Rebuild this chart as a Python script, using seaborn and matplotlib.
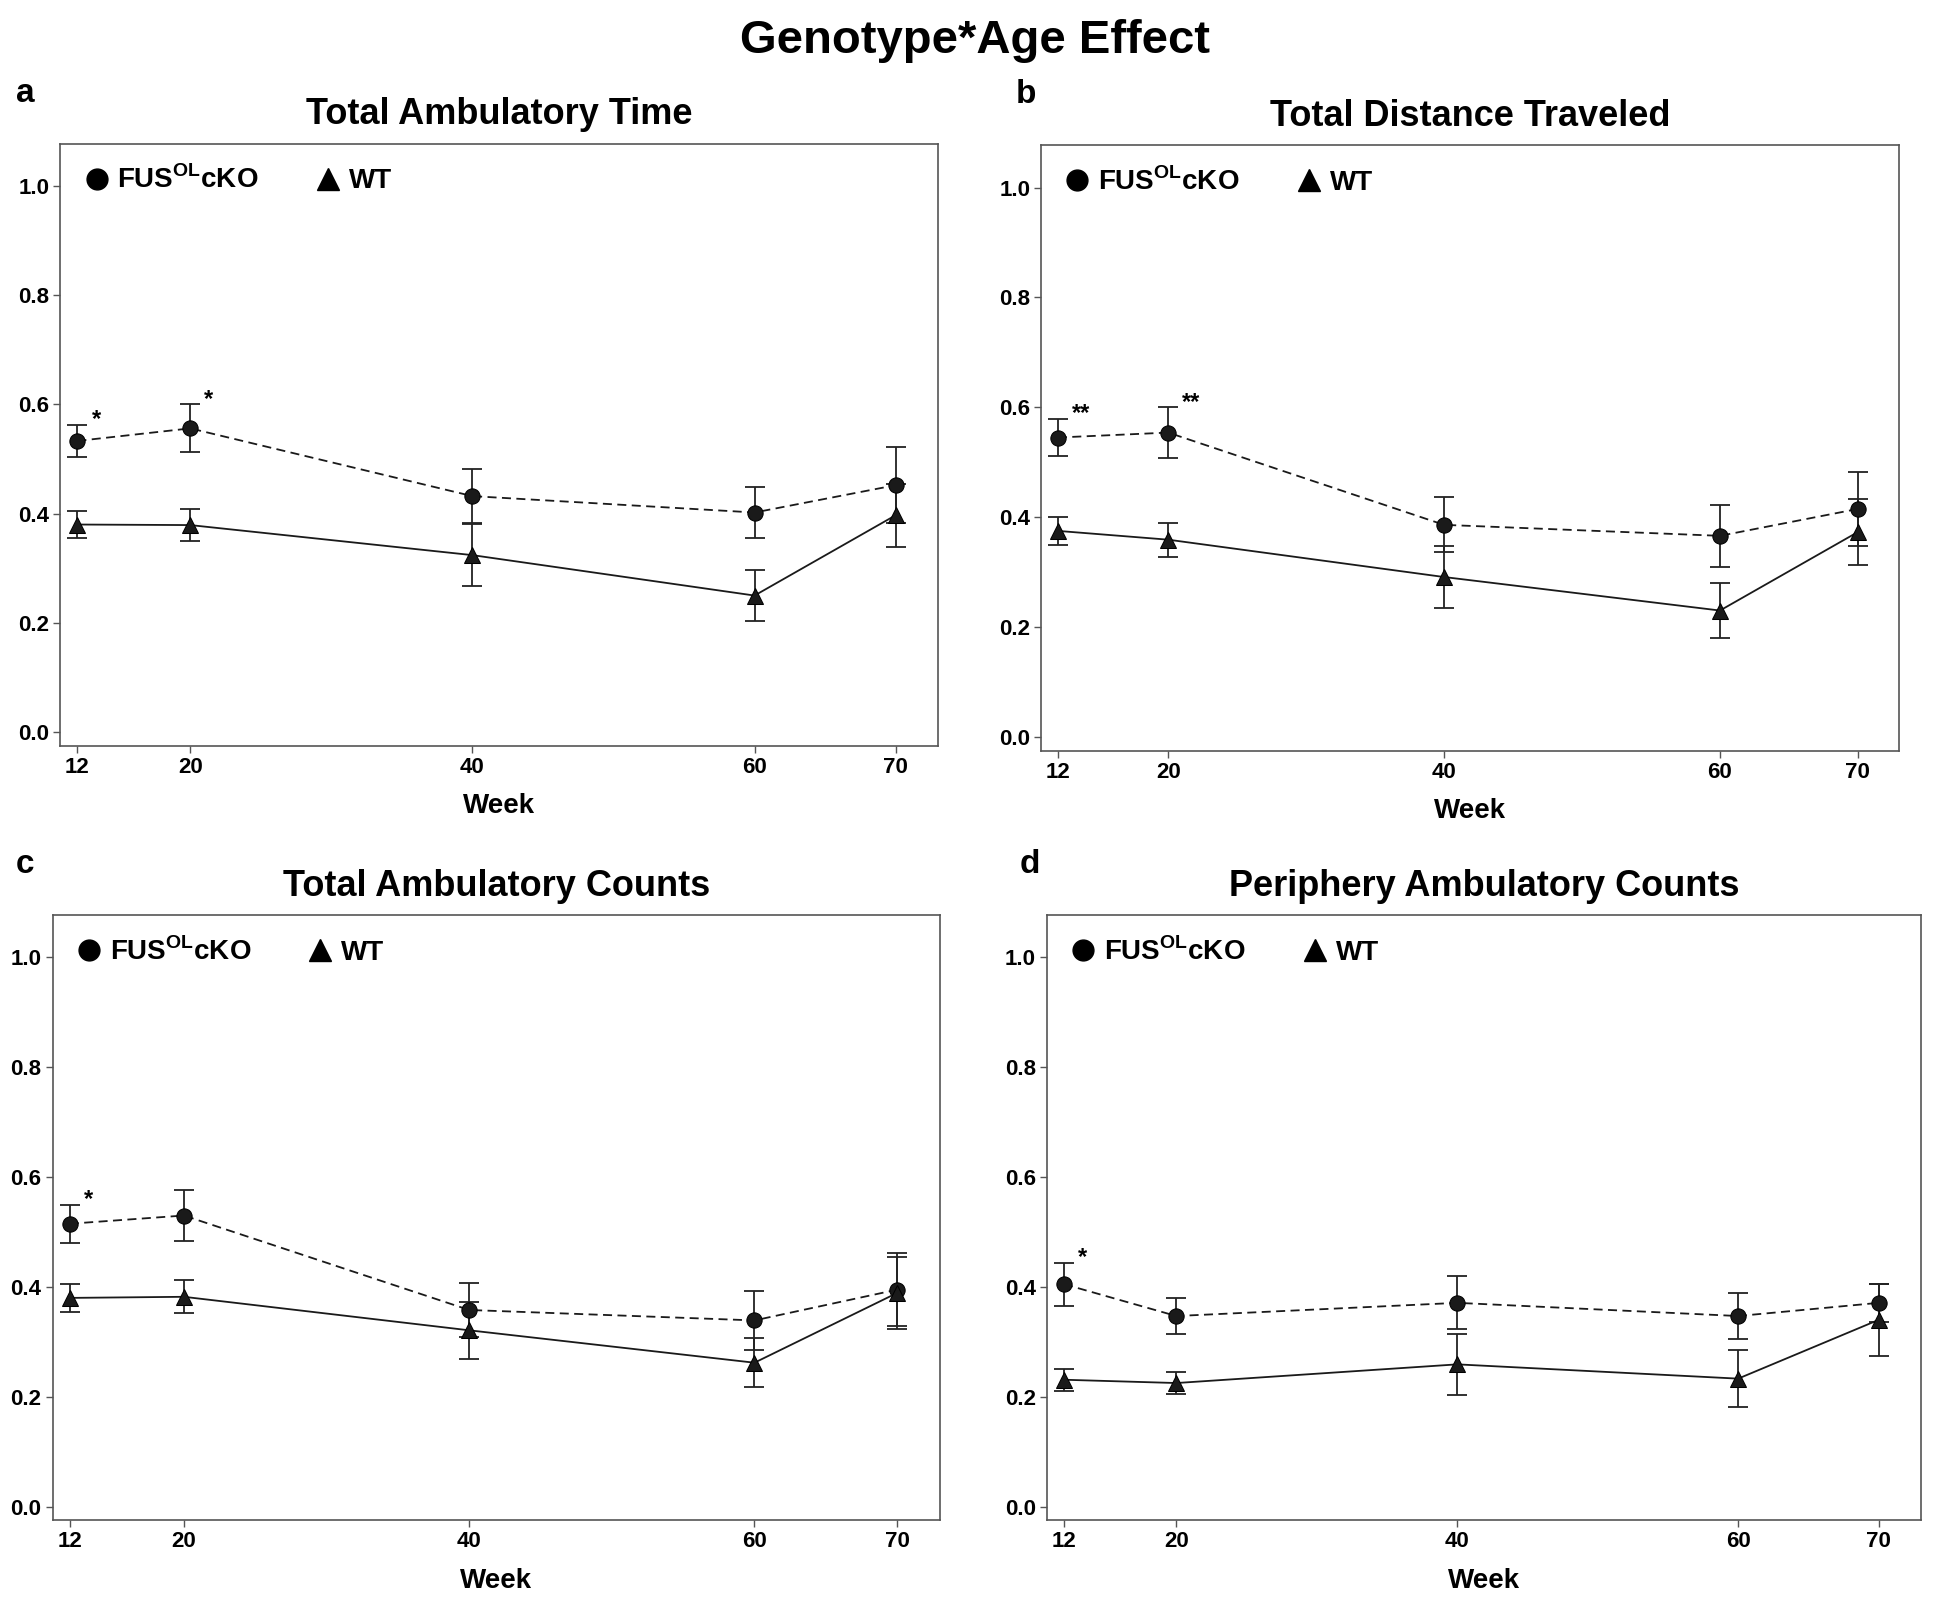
import numpy as np
import pandas as pd
import matplotlib
matplotlib.use("Agg")
import matplotlib.pyplot as plt
from matplotlib.lines import Line2D
import seaborn as sns

weeks = [12, 20, 40, 60, 70]

# panel a: Total Ambulatory Time
a_fus = [0.533, 0.556, 0.432, 0.402, 0.452]
a_fus_err = [0.030, 0.044, 0.050, 0.046, 0.070]
a_wt = [0.380, 0.379, 0.324, 0.250, 0.397]
a_wt_err = [0.025, 0.029, 0.057, 0.046, 0.058]

# panel b: Total Distance Traveled
b_fus = [0.545, 0.554, 0.386, 0.366, 0.415]
b_fus_err = [0.034, 0.046, 0.050, 0.056, 0.067]
b_wt = [0.375, 0.359, 0.291, 0.230, 0.373]
b_wt_err = [0.026, 0.031, 0.056, 0.050, 0.060]

# panel c: Total Ambulatory Counts
c_fus = [0.515, 0.530, 0.358, 0.339, 0.395]
c_fus_err = [0.035, 0.047, 0.050, 0.054, 0.066]
c_wt = [0.380, 0.382, 0.321, 0.262, 0.389]
c_wt_err = [0.025, 0.030, 0.052, 0.045, 0.065]

# panel d: Periphery Ambulatory Counts
d_fus = [0.405, 0.347, 0.371, 0.347, 0.371]
d_fus_err = [0.039, 0.032, 0.048, 0.042, 0.034]
d_wt = [0.231, 0.225, 0.259, 0.233, 0.340]
d_wt_err = [0.020, 0.020, 0.056, 0.052, 0.065]

titles = ["Total Ambulatory Time", "Total Distance Traveled",
          "Total Ambulatory Counts", "Periphery Ambulatory Counts"]
letters = ["a", "b", "c", "d"]
# significance marks: (week, label)
stars = [[(12, "*"), (20, "*")], [(12, "**"), (20, "**")], [(12, "*")], [(12, "*")]]

sns.set_style("white")
plt.rcParams['font.family'] = ['Liberation Sans', 'DejaVu Sans']
plt.rcParams['font.weight'] = 'bold'
plt.rcParams['text.color'] = 'black'
plt.rcParams['xtick.color'] = 'black'
plt.rcParams['ytick.color'] = 'black'
plt.rcParams['axes.labelcolor'] = 'black'
plt.rcParams['mathtext.fontset'] = 'custom'
plt.rcParams['mathtext.bf'] = 'Liberation Sans:bold'
plt.rcParams['mathtext.rm'] = 'Liberation Sans:bold'

fig = plt.figure(figsize=(19.5, 15.97), dpi=100)
boxes = [[0.031, 0.533, 0.450, 0.377], [0.534, 0.530, 0.440, 0.379],
         [0.027, 0.048, 0.455, 0.379], [0.537, 0.048, 0.448, 0.379]]
letter_x = [0.008, 0.521, 0.008, 0.523]
panels = [(a_fus, a_fus_err, a_wt, a_wt_err), (b_fus, b_fus_err, b_wt, b_wt_err),
          (c_fus, c_fus_err, c_wt, c_wt_err), (d_fus, d_fus_err, d_wt, d_wt_err)]

edge = "#555555"
for i, (fus, fus_err, wt, wt_err) in enumerate(panels):
    ax = fig.add_axes(boxes[i])
    df = pd.DataFrame({"Week": weeks * 2, "value": fus + wt,
                       "group": ["FUS"] * 5 + ["WT"] * 5})
    sns.lineplot(data=df, x="Week", y="value", hue="group", style="group",
                 palette={"FUS": "#1a1a1a", "WT": "#1a1a1a"},
                 dashes={"FUS": (5, 3), "WT": ""}, markers={"FUS": "o", "WT": "^"},
                 markersize=11, markeredgecolor="black", linewidth=1.3,
                 legend=False, ax=ax, zorder=3)
    ax.errorbar(weeks, fus, yerr=fus_err, fmt="none", ecolor="#222222",
                elinewidth=1.3, capsize=7, capthick=1.3, zorder=2)
    ax.errorbar(weeks, wt, yerr=wt_err, fmt="none", ecolor="#222222",
                elinewidth=1.3, capsize=7, capthick=1.3, zorder=2)
    for wk, s in stars[i]:
        k = weeks.index(wk)
        ax.text(wk + 1.0, fus[k] + fus_err[k] - 0.012, s, fontsize=17,
                fontweight="bold", ha="left", va="bottom")

    ax.set_xlim(10.8, 73)
    ax.set_ylim(-0.025, 1.077)
    ax.set_xticks(weeks)
    ax.set_xticklabels([str(w) for w in weeks])
    ax.set_yticks([0.0, 0.2, 0.4, 0.6, 0.8, 1.0])
    ax.set_yticklabels(["0.0", "0.2", "0.4", "0.6", "0.8", "1.0"])
    ax.tick_params(axis="both", direction="out", length=5, width=1, color=edge,
                   labelsize=16, pad=3, bottom=True, left=True, labelcolor="black")
    for lab in ax.get_xticklabels() + ax.get_yticklabels():
        lab.set_fontweight("bold")
    for sp in ax.spines.values():
        sp.set_color(edge)
        sp.set_linewidth(1.2)
    ax.set_ylabel("")
    ax.set_xlabel("Week", fontsize=20, fontweight="bold", labelpad=11)
    ax.set_title(titles[i], fontsize=26, fontweight="bold", pad=14)

    handles = [Line2D([], [], marker="o", color="black", linestyle="none", markersize=15),
               Line2D([], [], marker="^", color="black", linestyle="none", markersize=16)]
    ax.legend(handles, [r"FUS$^{\mathbf{OL}}$cKO", "WT"], loc="upper left",
              ncol=2, frameon=False, prop={"size": 20, "weight": "bold"},
              handletextpad=0.25, columnspacing=2.0, handlelength=1.0,
              bbox_to_anchor=(0.0, 1.0), borderaxespad=0.4)

    fig.text(letter_x[i], boxes[i][1] + boxes[i][3] + 0.022, letters[i], fontsize=24,
             fontweight="bold", ha="left", va="bottom")

fig.suptitle("Genotype*Age Effect", fontsize=34, fontweight="bold", y=0.988, va="top")
fig.savefig("out.png", dpi=100)
